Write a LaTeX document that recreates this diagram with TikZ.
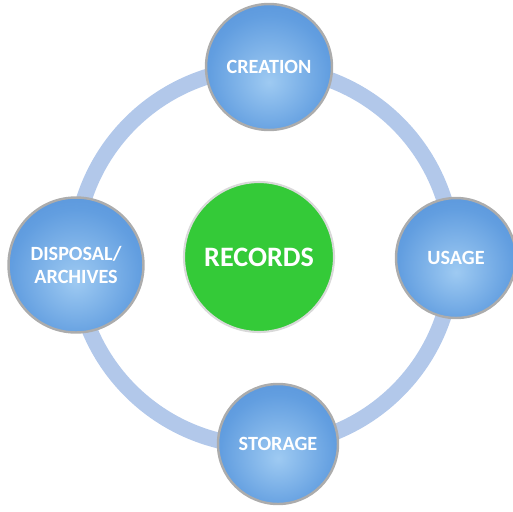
\documentclass[tikz,border=0pt]{standalone}
\usepackage{fontspec}
\setsansfont{Carlito}
\usepackage{tikz}
\tikzset{every picture/.style={/utils/exec={\sffamily}}}

\definecolor{ringblue}{RGB}{178,200,234}
\definecolor{bubblein}{RGB}{158,202,242}
\definecolor{bubblemid}{RGB}{98,158,224}
\definecolor{bubbleout}{RGB}{66,126,206}
\definecolor{recgreen}{RGB}{52,202,56}

% soft light centre for the stage circles
\pgfdeclareradialshading{bubble}{\pgfpoint{0bp}{-6bp}}{color(0bp)=(bubblein); color(24bp)=(bubblemid); color(56bp)=(bubbleout)}

\tikzset{
  stage/.style={circle, shading=bubble, draw=gray!65, line width=1.4pt,
    text=white, font=\bfseries\fontsize{11.5}{13}\selectfont, align=center, inner sep=0pt},
  core/.style={circle, fill=recgreen, draw=gray!30, line width=1.2pt,
    text=white, font=\bfseries\fontsize{16}{19}\selectfont, inner sep=0pt}
}

\begin{document}
\begin{tikzpicture}[x=0.02cm, y=-0.02cm]
\useasboundingbox (0,0) rectangle (513,511);

%Cycle ring behind the stages
\coordinate (hub) at (264,257);
\draw[ringblue, line width=9pt] (hub) circle (189);

%Stages of the cycle
\node[stage, minimum size=2.52cm] (creation) at (269,67) {CREATION};
\node[stage, minimum size=2.4cm] (usage) at (456,258) {USAGE};
\node[stage, minimum size=2.4cm] (storage) at (278,444) {STORAGE};
\node[stage, minimum size=2.7cm] (disposal) at (76,265) {DISPOSAL/\\ARCHIVES};

%Records in the middle
\node[core, minimum size=3.0cm] (records) at (259,257) {RECORDS};

\end{tikzpicture}
\end{document}
